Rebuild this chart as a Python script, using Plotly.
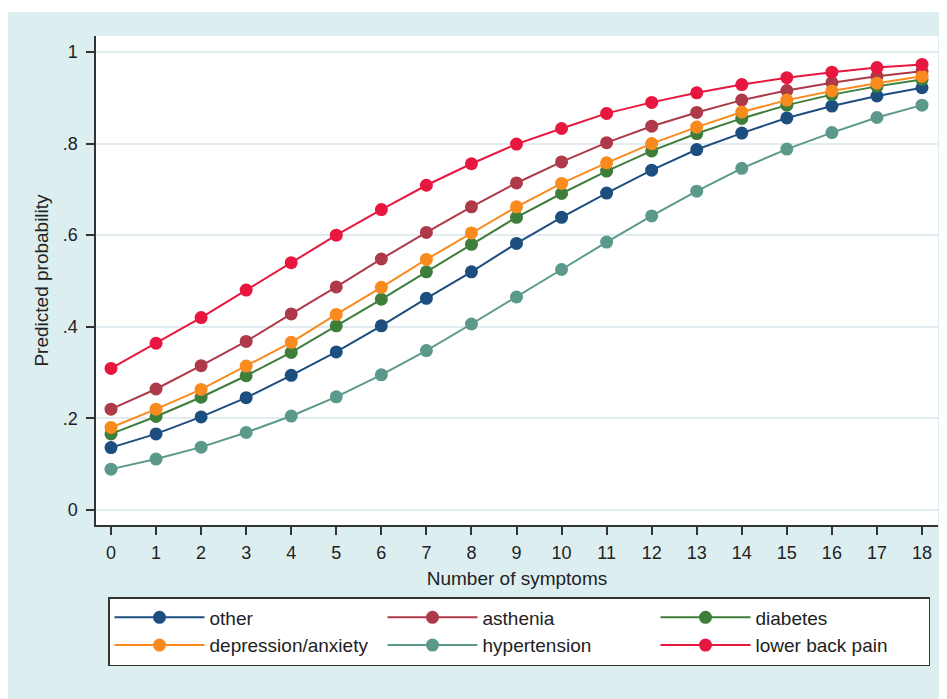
import plotly.graph_objects as go

symptoms = list(range(19))

other = [0.136, 0.166, 0.203, 0.245, 0.294, 0.345, 0.402, 0.462, 0.520, 0.582,
         0.639, 0.692, 0.742, 0.787, 0.823, 0.856, 0.882, 0.904, 0.922]
asthenia = [0.220, 0.264, 0.315, 0.368, 0.428, 0.487, 0.548, 0.606, 0.662, 0.714,
            0.760, 0.802, 0.838, 0.868, 0.895, 0.916, 0.933, 0.947, 0.958]
diabetes = [0.166, 0.204, 0.246, 0.293, 0.344, 0.402, 0.460, 0.520, 0.580, 0.639,
            0.691, 0.740, 0.784, 0.822, 0.855, 0.884, 0.907, 0.925, 0.940]
depression_anxiety = [0.180, 0.220, 0.263, 0.314, 0.366, 0.427, 0.486, 0.547, 0.605, 0.662,
                      0.713, 0.758, 0.800, 0.836, 0.869, 0.895, 0.915, 0.932, 0.947]
hypertension = [0.089, 0.111, 0.137, 0.169, 0.205, 0.247, 0.295, 0.348, 0.406, 0.465,
                0.525, 0.585, 0.642, 0.696, 0.746, 0.788, 0.824, 0.857, 0.884]
lower_back_pain = [0.309, 0.364, 0.420, 0.480, 0.540, 0.600, 0.656, 0.709, 0.756, 0.799,
                   0.833, 0.866, 0.890, 0.911, 0.929, 0.944, 0.956, 0.966, 0.973]

series_names = ["other", "asthenia", "diabetes", "depression/anxiety",
                "hypertension", "lower back pain"]
series_values = [other, asthenia, diabetes, depression_anxiety,
                 hypertension, lower_back_pain]
series_colors = ["#1C4E7F", "#AE3A49", "#3E7E3B", "#F98A1E", "#5B9A8B", "#E8173F"]

y_tickvals = [0, 0.2, 0.4, 0.6, 0.8, 1]
y_ticktext = ["0", ".2", ".4", ".6", ".8", "1"]

fig = go.Figure()
for name, vals, col in zip(series_names, series_values, series_colors):
    fig.add_trace(go.Scatter(
        x=symptoms, y=vals, name=name, mode="lines+markers",
        line=dict(color=col, width=2),
        marker=dict(color=col, size=13),
    ))

BG = "#DDEEF0"
OFF = 8  # page body margin
W, H = 947 - OFF, 699 - OFF
L, T = 96 - OFF, 36 - OFF
R = 947 - 938
B = 699 - 525
pw, ph = W - L - R, H - T - B

def px_x(p):
    return (p - OFF - L) / pw

def px_y(p):
    return (H - B - (p - OFF)) / ph

fig.update_layout(
    width=W, height=H,
    margin=dict(l=L, r=R, t=T, b=B, autoexpand=False),
    paper_bgcolor=BG,
    plot_bgcolor="white",
    font=dict(family="Liberation Sans, Arial, sans-serif", size=19, color="#222"),
    showlegend=True,
    legend=dict(
        orientation="h",
        x=px_x(108), y=px_y(597), xanchor="left", yanchor="top",
        bgcolor="white", bordercolor="#333", borderwidth=1.5,
        font=dict(size=19, color="#222"),
        entrywidth=168, entrywidthmode="pixels",
        itemwidth=90,
        traceorder="normal",
    ),
    shapes=[
        dict(type="rect", xref="paper", yref="paper",
             x0=px_x(0), x1=px_x(947), y0=px_y(8), y1=px_y(12),
             fillcolor="white", line=dict(width=0), layer="above"),
    ],
)

fig.update_xaxes(
    range=[-0.333, 18.355],
    tickmode="array", tickvals=symptoms, ticktext=[str(s) for s in symptoms],
    ticks="outside", ticklen=8, tickwidth=1.5, tickcolor="#333",
    showline=True, linecolor="#333", linewidth=1.5,
    showgrid=False, zeroline=False,
    tickfont=dict(size=18),
    ticklabelstandoff=3,
    title=dict(text="Number of symptoms", font=dict(size=19), standoff=9),
)
fig.update_yaxes(
    range=[-0.033, 1.035],
    tickmode="array", tickvals=y_tickvals, ticktext=y_ticktext,
    ticks="outside", ticklen=8, tickwidth=1.5, tickcolor="#333",
    showline=True, linecolor="#333", linewidth=1.5,
    showgrid=True, gridcolor="#E2ECF0", gridwidth=1.5,
    zeroline=False,
    tickfont=dict(size=18),
    ticklabelstandoff=5,
    title=dict(text="Predicted probability", font=dict(size=19), standoff=9),
)

fig.write_html("out.html")
